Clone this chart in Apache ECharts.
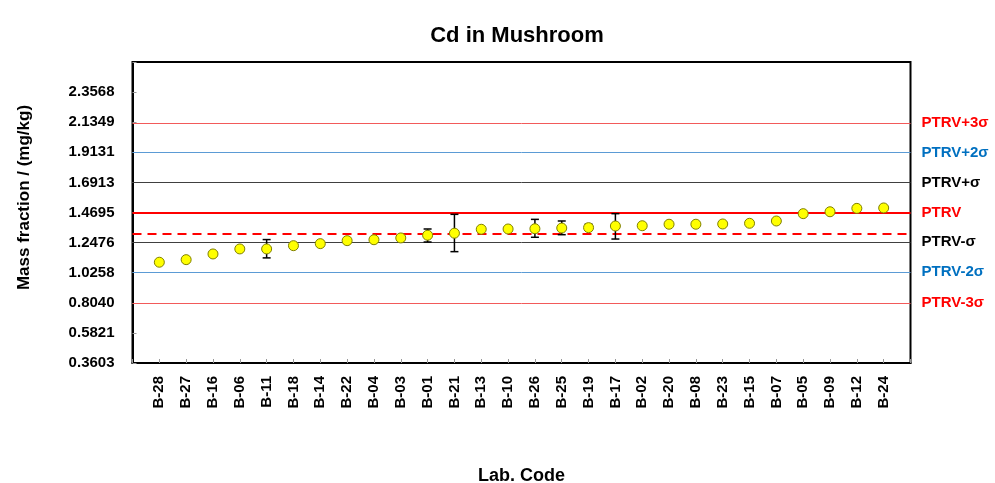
<!DOCTYPE html>
<html>
<head>
<meta charset="utf-8">
<script src="https://cdn.jsdelivr.net/npm/echarts@6/dist/echarts.min.js"></script>
<style>
  html, body { margin: 0; padding: 0; background: #fff; }
  #chart { width: 995px; height: 483px; }
</style>
</head>
<body>
<div id="chart"></div>
<script>
// lab codes in plotted order
const codes = ['B-28', 'B-27', 'B-16', 'B-06', 'B-11', 'B-18', 'B-14', 'B-22', 'B-04', 'B-03',
  'B-01', 'B-21', 'B-13', 'B-10', 'B-26', 'B-25', 'B-19', 'B-17', 'B-02', 'B-20',
  'B-08', 'B-23', 'B-15', 'B-07', 'B-05', 'B-09', 'B-12', 'B-24'];

// reported mass fractions (mg/kg)
const values = [1.103, 1.122, 1.164, 1.201, 1.201, 1.225, 1.240, 1.262, 1.269, 1.282,
  1.302, 1.317, 1.346, 1.348, 1.350, 1.355, 1.358, 1.370, 1.372, 1.383,
  1.383, 1.385, 1.390, 1.407, 1.461, 1.475, 1.500, 1.503];

// uncertainty bars (null = none visible)
const errLow = [null, null, null, null, 1.135, null, null, null, null, null,
  1.252, 1.181, null, null, 1.287, 1.306, 1.346, 1.274, null, null,
  null, null, null, null, null, null, null, null];
const errHigh = [null, null, null, null, 1.270, null, null, null, null, null,
  1.348, 1.456, null, null, 1.419, 1.407, 1.383, 1.461, null, null,
  null, null, null, null, null, null, null, null];

// y axis tick labels
const yLabels = ['0.3603', '0.5821', '0.8040', '1.0258', '1.2476', '1.4695', '1.6913', '1.9131', '2.1349', '2.3568'];
const yMin = 0.3603;
const yStep = 0.22185;
const yMax = yMin + 10 * yStep;

// reference lines
const refNames = ['PTRV+3σ', 'PTRV+2σ', 'PTRV+σ', 'PTRV', 'PTRV-σ', 'PTRV-2σ', 'PTRV-3σ'];
const refValues = [2.1349, 1.9131, 1.6913, 1.4695, 1.2476, 1.0258, 0.8040];
const refLineColors = ['#f25a5a', '#5b9bd5', '#404040', '#ff0000', '#404040', '#5b9bd5', '#f25a5a'];
const refTextColors = ['#ff0000', '#0070c0', '#000000', '#ff0000', '#000000', '#0070c0', '#ff0000'];
const medianValue = 1.314;

const font = "'Liberation Sans', Arial, sans-serif";

var chartDom = document.getElementById('chart');
var myChart = echarts.init(chartDom);

const points = values.map((v, i) => [i + 1, v]);
const bars = [];
for (let i = 0; i < codes.length; i++) {
  if (errLow[i] != null) bars.push([i + 1, errLow[i], errHigh[i]]);
}

const markData = refValues.map((v, i) => ({
  yAxis: v,
  lineStyle: {
    color: refLineColors[i],
    width: i === 3 ? 2 : 1,
    type: 'solid'
  },
  label: {
    show: true,
    position: 'end',
    distance: 11,
    formatter: refNames[i],
    color: refTextColors[i],
    fontFamily: font,
    fontWeight: 'bold',
    fontSize: 15
  }
}));
markData.push({
  yAxis: medianValue,
  lineStyle: { color: '#ff0000', width: 2, type: [9, 6] },
  label: { show: false }
});

const option = {
  backgroundColor: '#fff',
  animation: false,
  title: {
    text: 'Cd in Mushroom',
    left: 512,
    textAlign: 'center',
    top: 20,
    textStyle: { fontFamily: font, fontWeight: 'bold', fontSize: 22, color: '#000' }
  },
  grid: {
    left: 132.5,
    right: 84.5,
    top: 62,
    bottom: 120,
    outerBoundsMode: 'none',
    show: true,
    borderColor: '#000',
    borderWidth: 2,
    backgroundColor: 'transparent'
  },
  xAxis: {
    type: 'value',
    min: 0,
    max: codes.length + 1,
    interval: 1,
    name: 'Lab. Code',
    nameLocation: 'middle',
    nameGap: 104,
    nameTextStyle: { fontFamily: font, fontWeight: 'bold', fontSize: 18, color: '#000' },
    axisLine: { show: true, lineStyle: { color: '#000', width: 2 } },
    axisTick: { show: true, inside: true, length: 4, lineStyle: { color: '#999' } },
    splitLine: { show: false },
    axisLabel: {
      rotate: 90,
      margin: 13,
      fontFamily: font,
      fontWeight: 'bold',
      fontSize: 15,
      color: '#000',
      formatter: v => codes[Math.round(v) - 1] || ''
    }
  },
  yAxis: {
    type: 'value',
    min: yMin,
    max: yMax,
    interval: yStep,
    name: 'Mass fraction / (mg/kg)',
    nameLocation: 'middle',
    nameGap: 100,
    nameTextStyle: { fontFamily: font, fontWeight: 'bold', fontSize: 17, color: '#000', padding: [0, 0, 0, 30] },
    axisLine: { show: true, lineStyle: { color: '#000', width: 2 } },
    axisTick: { show: true, inside: true, length: 4, lineStyle: { color: '#999' } },
    splitLine: { show: false },
    axisLabel: {
      margin: 18,
      fontFamily: font,
      fontWeight: 'bold',
      fontSize: 15,
      color: '#000',
      formatter: v => yLabels[Math.round((v - yMin) / yStep)] || ''
    }
  },
  series: [
    {
      name: 'error',
      type: 'custom',
      z: 3,
      data: bars,
      renderItem: function (params, api) {
        const x = api.value(0);
        const top = api.coord([x, api.value(2)]);
        const bot = api.coord([x, api.value(1)]);
        const w = 4;
        const style = { stroke: '#000', lineWidth: 1.5 };
        return {
          type: 'group',
          children: [
            { type: 'line', shape: { x1: top[0], y1: top[1], x2: bot[0], y2: bot[1] }, style: style },
            { type: 'line', shape: { x1: top[0] - w, y1: top[1], x2: top[0] + w, y2: top[1] }, style: style },
            { type: 'line', shape: { x1: bot[0] - w, y1: bot[1], x2: bot[0] + w, y2: bot[1] }, style: style }
          ]
        };
      }
    },
    {
      name: 'Results',
      type: 'scatter',
      z: 4,
      symbol: 'circle',
      symbolSize: 10,
      data: points,
      itemStyle: { color: '#ffff00', borderColor: '#808000', borderWidth: 1, opacity: 1 },
      markLine: {
        silent: true,
        symbol: 'none',
        z: 2,
        data: markData
      }
    }
  ]
};

myChart.setOption(option);
</script>
</body>
</html>
